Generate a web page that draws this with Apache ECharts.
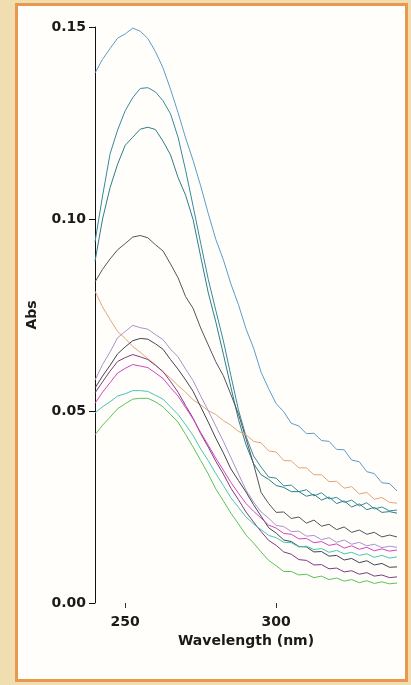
<!DOCTYPE html>
<html>
<head>
<meta charset="utf-8">
<script src="https://cdn.jsdelivr.net/npm/echarts@6/dist/echarts.min.js"></script>
<style>
    html, body { margin: 0; padding: 0; background: #f1deb0; }
    #frame {
        position: absolute; left: 15px; top: 3px; width: 393px; height: 679px;
        box-sizing: border-box; border: 3px solid #e8994e; background: #fffefb;
    }
    #spectra { position: absolute; left: 0; top: 0; width: 411px; height: 685px; }
</style>
</head>
<body>
<div id="frame"></div>
<div id="spectra"></div>
<script>
// wavelength (nm), every 2.5 nm from 240 to 340
var wavelengths = [240, 242.5, 245, 247.5, 250, 252.5, 255, 257.5, 260, 262.5, 265, 267.5, 270, 272.5, 275, 277.5, 280, 282.5, 285, 287.5,
    290, 292.5, 295, 297.5, 300, 302.5, 305, 307.5, 310, 312.5, 315, 317.5, 320, 322.5, 325, 327.5, 330, 332.5, 335, 337.5, 340];

var xTicks = [250, 300];

var absBlue = [.1380, .1416, .1444, .1471, .1482, .1497, .1489, .1470, .1436, .1394, .1338, .1277, .1211, .1152, .1086, .1014, .0947, .0894, .0831, .0777,
    .0714, .0664, .0601, .0558, .0519, .0498, .0468, .0461, .0441, .0442, .0423, .0421, .0400, .0399, .0372, .0368, .0342, .0337, .0313, .0311, .0292];
var absTeal1 = [.0940, .1060, .1170, .1232, .1282, .1316, .1340, .1342, .1331, .1308, .1274, .1213, .1127, .1033, .0937, .0843, .0762, .0683, .0592, .0503,
    .0434, .0383, .0354, .0328, .0325, .0305, .0307, .0290, .0295, .0279, .0287, .0271, .0275, .0262, .0268, .0253, .0261, .0245, .0250, .0240, .0242];
var absTeal2 = [.0890, .1000, .1082, .1143, .1192, .1213, .1234, .1239, .1233, .1203, .1167, .1108, .1062, .0998, .0902, .0808, .0732, .0648, .0562, .0478,
    .0412, .0363, .0334, .0322, .0306, .0301, .0290, .0290, .0278, .0283, .0268, .0276, .0259, .0266, .0250, .0258, .0243, .0249, .0236, .0238, .0234];
var absGrey = [.0836, .0869, .0896, .0920, .0936, .0953, .0957, .0951, .0933, .0917, .0883, .0847, .0798, .0767, .0716, .0672, .0628, .0592, .0543, .0492,
    .0428, .0362, .0288, .0259, .0236, .0237, .0220, .0224, .0208, .0216, .0200, .0205, .0191, .0198, .0184, .0190, .0179, .0184, .0172, .0177, .0172];
var absOrange = [.0812, .0771, .0738, .0707, .0689, .0668, .0653, .0636, .0621, .0601, .0586, .0566, .0549, .0529, .0516, .0501, .0491, .0475, .0463, .0447,
    .0438, .0421, .0417, .0396, .0393, .0371, .0370, .0352, .0352, .0334, .0334, .0316, .0317, .0299, .0303, .0284, .0288, .0270, .0275, .0262, .0260];
var absLavender = [.0580, .0621, .0654, .0691, .0707, .0723, .0717, .0713, .0699, .0686, .0661, .0641, .0609, .0579, .0539, .0501, .0461, .0421, .0379, .0336,
    .0294, .0263, .0237, .0221, .0202, .0199, .0186, .0187, .0174, .0176, .0165, .0170, .0158, .0164, .0153, .0158, .0149, .0153, .0144, .0148, .0145];
var absDark = [.0560, .0591, .0619, .0649, .0667, .0683, .0689, .0687, .0675, .0661, .0634, .0609, .0581, .0551, .0511, .0471, .0429, .0391, .0349, .0319,
    .0289, .0256, .0226, .0196, .0182, .0164, .0160, .0147, .0146, .0133, .0134, .0122, .0124, .0112, .0116, .0105, .0110, .0099, .0103, .0093, .0094];
var absPurple = [.0547, .0576, .0604, .0629, .0639, .0647, .0641, .0634, .0619, .0603, .0577, .0549, .0514, .0481, .0441, .0406, .0369, .0336, .0299, .0269,
    .0237, .0211, .0186, .0163, .0150, .0133, .0127, .0113, .0111, .0099, .0100, .0089, .0091, .0081, .0084, .0075, .0079, .0070, .0073, .0066, .0068];
var absMagenta = [.0520, .0549, .0574, .0599, .0611, .0621, .0617, .0613, .0599, .0585, .0561, .0539, .0509, .0479, .0444, .0411, .0377, .0346, .0314, .0286,
    .0259, .0239, .0221, .0203, .0195, .0181, .0179, .0167, .0168, .0157, .0160, .0150, .0154, .0143, .0149, .0140, .0145, .0136, .0141, .0135, .0138];
var absCyan = [.0495, .0511, .0524, .0539, .0545, .0553, .0553, .0551, .0541, .0531, .0511, .0491, .0464, .0436, .0401, .0371, .0337, .0306, .0274, .0249,
    .0224, .0206, .0191, .0176, .0170, .0158, .0157, .0146, .0148, .0139, .0142, .0132, .0137, .0128, .0132, .0124, .0128, .0119, .0124, .0117, .0120];
var absGreen = [.0438, .0463, .0484, .0506, .0519, .0531, .0533, .0533, .0524, .0511, .0491, .0471, .0439, .0406, .0371, .0336, .0297, .0266, .0234, .0206,
    .0177, .0156, .0133, .0111, .0097, .0082, .0082, .0073, .0075, .0066, .0070, .0061, .0065, .0057, .0061, .0053, .0058, .0051, .0055, .0050, .0052];

var seriesList = [
    {name: 'A', values: absBlue, color: '#5b9cc9'},
    {name: 'B', values: absTeal1, color: '#348a9c'},
    {name: 'C', values: absTeal2, color: '#2f7c88'},
    {name: 'D', values: absGrey, color: '#50545c'},
    {name: 'E', values: absOrange, color: '#e2a47a'},
    {name: 'F', values: absLavender, color: '#a992cc'},
    {name: 'G', values: absDark, color: '#3d4552'},
    {name: 'H', values: absPurple, color: '#7c3a82'},
    {name: 'I', values: absMagenta, color: '#cf45c4'},
    {name: 'J', values: absCyan, color: '#45c6b4'},
    {name: 'K', values: absGreen, color: '#58c35a'}
];

var spectraChart = echarts.init(document.getElementById('spectra'));

var series = seriesList.map(function (s) {
    return {
        name: s.name,
        type: 'line',
        showSymbol: false,
        silent: true,
        data: wavelengths.map(function (w, i) { return [w, s.values[i]]; }),
        lineStyle: {color: s.color, width: 1}
    };
});

var labelFont = {
    color: '#1a1a1a',
    fontFamily: 'DejaVu Sans',
    fontWeight: 'bold',
    fontSize: 14
};

spectraChart.setOption(option = {
    animation: false,
    grid: {
        left: 95,
        right: 14,
        top: 27,
        bottom: 82
    },
    xAxis: {
        type: 'value',
        min: 240,
        max: 340,
        name: 'Wavelength (nm)',
        nameLocation: 'middle',
        nameGap: 31,
        nameTextStyle: labelFont,
        axisLine: {show: false},
        axisTick: {
            show: true,
            customValues: xTicks,
            length: 5,
            lineStyle: {color: '#333'}
        },
        axisLabel: Object.assign({customValues: xTicks, margin: 12}, labelFont),
        splitLine: {show: false}
    },
    yAxis: {
        type: 'value',
        min: 0,
        max: 0.15,
        interval: 0.05,
        name: 'Abs',
        nameLocation: 'middle',
        nameGap: 56,
        nameTextStyle: labelFont,
        axisLine: {show: true, lineStyle: {color: '#111', width: 1}},
        axisTick: {show: true, length: 6, lineStyle: {color: '#111'}},
        axisLabel: Object.assign({
            margin: 9,
            formatter: function (v) { return v.toFixed(2); }
        }, labelFont),
        splitLine: {show: false}
    },
    series: series
});
</script>
</body>
</html>
